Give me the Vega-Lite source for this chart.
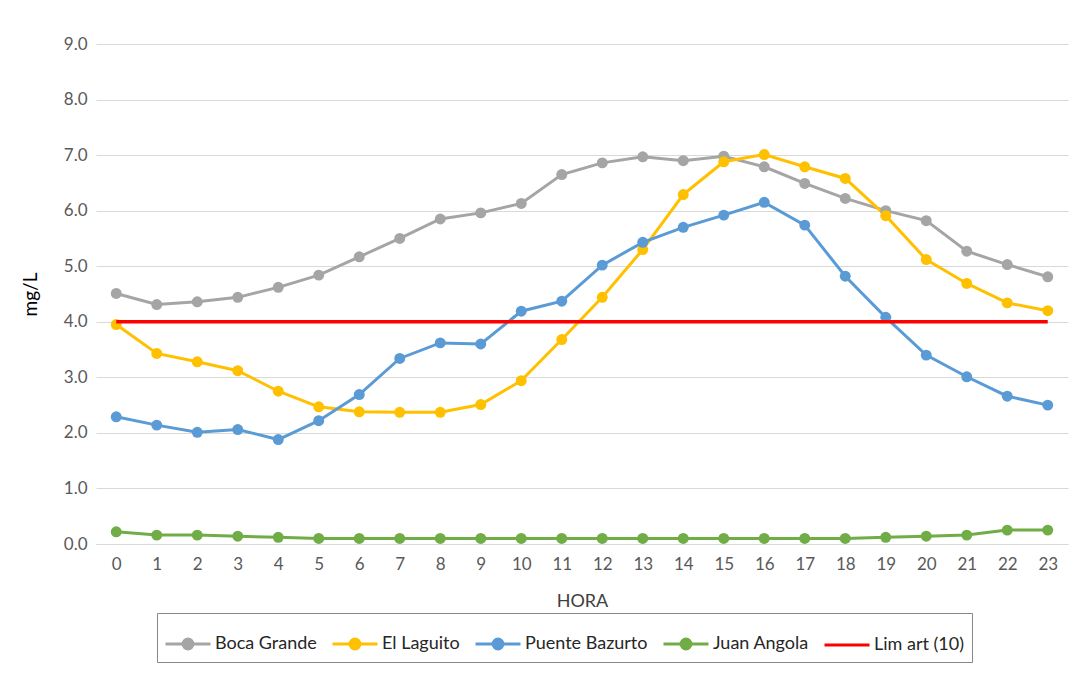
{
  "$schema": "https://vega.github.io/schema/vega-lite/v6.json",
  "width": 972,
  "height": 500,
  "autosize": {"type": "none"},
  "padding": {"left": 96, "top": 44, "right": 11, "bottom": 142},
  "background": "white",
  "config": {"view": {"stroke": null}, "font": "Lato"},
  "data": {"values": [
    {"hora": 0, "Boca Grande": 4.51, "El Laguito": 3.95, "Puente Bazurto": 2.29, "Juan Angola": 0.22, "Lim art (10)": 4.0},
    {"hora": 1, "Boca Grande": 4.31, "El Laguito": 3.43, "Puente Bazurto": 2.14, "Juan Angola": 0.16, "Lim art (10)": 4.0},
    {"hora": 2, "Boca Grande": 4.36, "El Laguito": 3.28, "Puente Bazurto": 2.01, "Juan Angola": 0.16, "Lim art (10)": 4.0},
    {"hora": 3, "Boca Grande": 4.44, "El Laguito": 3.12, "Puente Bazurto": 2.06, "Juan Angola": 0.14, "Lim art (10)": 4.0},
    {"hora": 4, "Boca Grande": 4.62, "El Laguito": 2.75, "Puente Bazurto": 1.88, "Juan Angola": 0.12, "Lim art (10)": 4.0},
    {"hora": 5, "Boca Grande": 4.84, "El Laguito": 2.47, "Puente Bazurto": 2.22, "Juan Angola": 0.10, "Lim art (10)": 4.0},
    {"hora": 6, "Boca Grande": 5.17, "El Laguito": 2.38, "Puente Bazurto": 2.69, "Juan Angola": 0.10, "Lim art (10)": 4.0},
    {"hora": 7, "Boca Grande": 5.50, "El Laguito": 2.37, "Puente Bazurto": 3.34, "Juan Angola": 0.10, "Lim art (10)": 4.0},
    {"hora": 8, "Boca Grande": 5.85, "El Laguito": 2.37, "Puente Bazurto": 3.62, "Juan Angola": 0.10, "Lim art (10)": 4.0},
    {"hora": 9, "Boca Grande": 5.96, "El Laguito": 2.51, "Puente Bazurto": 3.60, "Juan Angola": 0.10, "Lim art (10)": 4.0},
    {"hora": 10, "Boca Grande": 6.13, "El Laguito": 2.94, "Puente Bazurto": 4.19, "Juan Angola": 0.10, "Lim art (10)": 4.0},
    {"hora": 11, "Boca Grande": 6.65, "El Laguito": 3.68, "Puente Bazurto": 4.37, "Juan Angola": 0.10, "Lim art (10)": 4.0},
    {"hora": 12, "Boca Grande": 6.86, "El Laguito": 4.44, "Puente Bazurto": 5.02, "Juan Angola": 0.10, "Lim art (10)": 4.0},
    {"hora": 13, "Boca Grande": 6.97, "El Laguito": 5.30, "Puente Bazurto": 5.43, "Juan Angola": 0.10, "Lim art (10)": 4.0},
    {"hora": 14, "Boca Grande": 6.90, "El Laguito": 6.29, "Puente Bazurto": 5.70, "Juan Angola": 0.10, "Lim art (10)": 4.0},
    {"hora": 15, "Boca Grande": 6.98, "El Laguito": 6.88, "Puente Bazurto": 5.92, "Juan Angola": 0.10, "Lim art (10)": 4.0},
    {"hora": 16, "Boca Grande": 6.79, "El Laguito": 7.01, "Puente Bazurto": 6.15, "Juan Angola": 0.10, "Lim art (10)": 4.0},
    {"hora": 17, "Boca Grande": 6.49, "El Laguito": 6.79, "Puente Bazurto": 5.74, "Juan Angola": 0.10, "Lim art (10)": 4.0},
    {"hora": 18, "Boca Grande": 6.22, "El Laguito": 6.58, "Puente Bazurto": 4.82, "Juan Angola": 0.10, "Lim art (10)": 4.0},
    {"hora": 19, "Boca Grande": 6.00, "El Laguito": 5.91, "Puente Bazurto": 4.08, "Juan Angola": 0.12, "Lim art (10)": 4.0},
    {"hora": 20, "Boca Grande": 5.82, "El Laguito": 5.12, "Puente Bazurto": 3.40, "Juan Angola": 0.14, "Lim art (10)": 4.0},
    {"hora": 21, "Boca Grande": 5.27, "El Laguito": 4.69, "Puente Bazurto": 3.01, "Juan Angola": 0.16, "Lim art (10)": 4.0},
    {"hora": 22, "Boca Grande": 5.03, "El Laguito": 4.34, "Puente Bazurto": 2.66, "Juan Angola": 0.25, "Lim art (10)": 4.0},
    {"hora": 23, "Boca Grande": 4.81, "El Laguito": 4.20, "Puente Bazurto": 2.50, "Juan Angola": 0.25, "Lim art (10)": 4.0}
  ]},
  "transform": [
    {"fold": ["Boca Grande", "El Laguito", "Puente Bazurto", "Juan Angola", "Lim art (10)"], "as": ["serie", "valor"]}
  ],
  "encoding": {
    "x": {
      "field": "hora", "type": "quantitative",
      "scale": {"domain": [-0.5, 23.5], "nice": false, "zero": false},
      "axis": {
        "title": "HORA", "values": [0,1,2,3,4,5,6,7,8,9,10,11,12,13,14,15,16,17,18,19,20,21,22,23],
        "grid": false, "ticks": false, "domain": true, "domainColor": "#d9d9d9",
        "labelFontSize": 17, "labelColor": "#595959", "labelPadding": 12, "labelFlush": false,
        "titleFontSize": 18, "titleFontWeight": "normal", "titleColor": "#404040",
        "titleY": 57, "titleBaseline": "middle"
      }
    },
    "y": {
      "field": "valor", "type": "quantitative",
      "scale": {"domain": [0, 9], "nice": false},
      "axis": {
        "title": "mg/L", "values": [0,1,2,3,4,5,6,7,8,9], "format": ".1f",
        "grid": true, "gridColor": "#d9d9d9", "gridWidth": 1,
        "ticks": false, "domain": false,
        "labelFontSize": 17, "labelColor": "#595959", "labelPadding": 9,
        "titleFontSize": 19, "titleFontWeight": "normal", "titleColor": "#000000",
        "titleX": -66, "titleY": 250, "titleAngle": -90, "titleAlign": "center", "titleBaseline": "middle"
      }
    },
    "color": {
      "field": "serie", "type": "nominal",
      "scale": {
        "domain": ["Boca Grande", "El Laguito", "Puente Bazurto", "Juan Angola", "Lim art (10)"],
        "range": ["#a5a5a5", "#ffc000", "#5b9bd5", "#70ad47", "#ff0000"]
      },
      "legend": {
        "orient": "none", "legendX": 61, "legendY": 569, "direction": "horizontal", "title": null,
        "symbolType": "M-1,0H1M0.22,0A0.22,0.22 0 1,1 -0.22,0A0.22,0.22 0 1,1 0.22,0Z",
        "symbolSize": 2025, "symbolStrokeWidth": 3,
        "labelFontSize": 18, "labelColor": "#262626", "labelOffset": 3,
        "padding": 7, "strokeColor": "#888888", "columnPadding": 9,
        "encode": {
          "symbols": {"update": {
            "shape": {"signal": "datum.value === 'Lim art (10)' ? 'M-1,0H1' : 'M-1,0H1M0.22,0A0.22,0.22 0 1,1 -0.22,0A0.22,0.22 0 1,1 0.22,0Z'"},
            "fill": {"signal": "scale('color', datum.value)"},
            "stroke": {"signal": "scale('color', datum.value)"},
            "opacity": {"value": 1}
          }}
        }
      }
    }
  },
  "layer": [
    {
      "transform": [{"filter": "datum.serie !== 'Lim art (10)'"}],
      "mark": {"type": "line", "strokeWidth": 3, "point": {"filled": true, "size": 120, "opacity": 1}}
    },
    {
      "transform": [{"filter": "datum.serie === 'Lim art (10)'"}],
      "mark": {"type": "line", "strokeWidth": 3.5}
    }
  ]
}
